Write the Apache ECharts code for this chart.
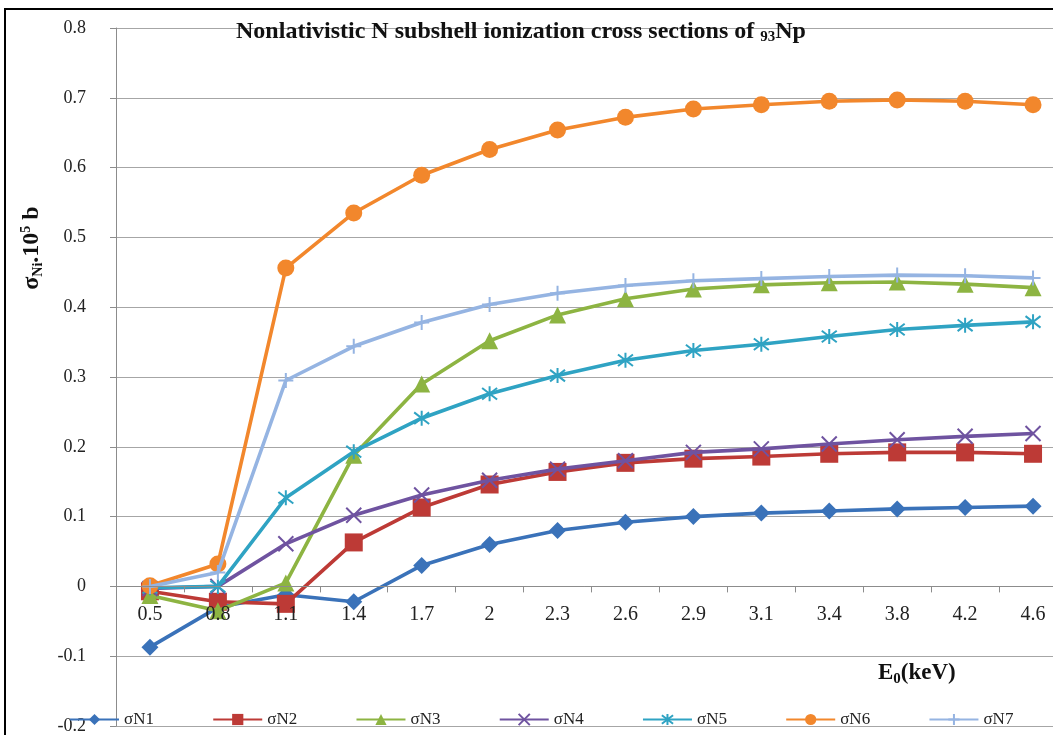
<!DOCTYPE html>
<html>
<head>
<meta charset="utf-8">
<script src="https://cdn.jsdelivr.net/npm/echarts@6/dist/echarts.min.js"></script>
<style>
html,body{margin:0;padding:0;background:#fff;}
#chart{width:1053px;height:735px;}
</style>
</head>
<body>
<div id="chart"></div>
<script>
const categories = ['0.5','0.8','1.1','1.4','1.7','2','2.3','2.6','2.9','3.1','3.4','3.8','4.2','4.6'];
const seriesNames = ['σN1','σN2','σN3','σN4','σN5','σN6','σN7'];
const sN1 = [-0.087,-0.030,-0.012,-0.022,0.030,0.060,0.080,0.092,0.100,0.105,0.108,0.111,0.113,0.115];
const sN2 = [-0.007,-0.022,-0.025,0.063,0.113,0.146,0.164,0.177,0.183,0.186,0.190,0.192,0.192,0.190];
const sN3 = [-0.013,-0.035,0.005,0.188,0.290,0.352,0.389,0.412,0.426,0.432,0.435,0.436,0.433,0.428];
const sN4 = [-0.003,0.000,0.061,0.102,0.131,0.152,0.168,0.180,0.192,0.197,0.204,0.210,0.215,0.219];
const sN5 = [-0.002,0.000,0.127,0.193,0.241,0.276,0.302,0.324,0.338,0.347,0.358,0.368,0.374,0.379];
const sN6 = [0.001,0.032,0.456,0.535,0.589,0.626,0.654,0.672,0.684,0.690,0.695,0.697,0.695,0.690];
const sN7 = [0.000,0.020,0.295,0.344,0.378,0.404,0.420,0.431,0.438,0.441,0.444,0.446,0.445,0.442];
const yTicks = {min:-0.2, max:0.8, interval:0.1};

const allData = [sN1,sN2,sN3,sN4,sN5,sN6,sN7];
const colors = ['#3a72b9','#bd3a36','#8db442','#6f53a0','#2fa3c3','#f2872c','#95b4e2'];
const symbols = [
  'diamond','rect','triangle',
  'path://M0,0L10,10M10,0L0,10',
  'path://M0,0L10,10M10,0L0,10M5,-1.5L5,11.5',
  'circle',
  'path://M0,5L10,5M5,0L5,10'
];
const sizes = [17,18,17,15,15,17,15];
const strokeSym = [false,false,false,true,true,false,true];

const serif = '"Liberation Serif","Times New Roman",serif';

const gridTop = 28, gridBottom = 9, chartH = 735;
const plotH = chartH - gridTop - gridBottom;
// shift the category axis up so it sits on the value 0 line
const zeroOffset = -plotH * (0 - yTicks.min) / (yTicks.max - yTicks.min);

const series = allData.map((d,i)=>({
  name: seriesNames[i],
  type: 'line',
  data: d,
  symbol: symbols[i],
  symbolSize: sizes[i],
  showAllSymbol: true,
  z: 2 + i,
  lineStyle: {color: colors[i], width: 3.6},
  itemStyle: strokeSym[i]
    ? {color: colors[i], borderColor: colors[i], borderWidth: 2}
    : {color: colors[i]},
  emphasis: {disabled: true},
  animation: false
}));

const chart = echarts.init(document.getElementById('chart'), null, {renderer:'canvas'});
chart.setOption({
  backgroundColor: '#fff',
  animation: false,
  title: {
    text: 'Nonlativistic N subshell ionization cross sections of {sub|93}Np',
    left: 516, top: 13, textAlign: 'center',
    textStyle: {
      fontFamily: serif, fontWeight: 'bold', fontSize: 24, color: '#111',
      rich: {sub: {fontFamily: serif, fontWeight: 'bold', fontSize: 15, verticalAlign: 'bottom', padding:[12,0,0,0], color:'#111'}}
    }
  },
  grid: {left: 116, right: -14, top: gridTop, bottom: gridBottom, containLabel: false, outerBoundsMode: 'none'},
  legend: {
    data: seriesNames,
    left: 69, top: 711, padding: 0,
    itemWidth: 49, itemHeight: 14, itemGap: 58.3,
    textStyle: {fontFamily: serif, fontSize: 17, color: '#222'}
  },
  xAxis: {
    type: 'category',
    data: categories,
    boundaryGap: true,
    position: 'bottom',
    offset: zeroOffset,
    z: 20,
    axisLine: {onZero: false, lineStyle: {color: '#8c8c8c', width: 1}},
    axisTick: {show: true, length: 6, inside: false, lineStyle: {color: '#8c8c8c'}},
    axisLabel: {fontFamily: serif, fontSize: 20, color: '#222', margin: 18},
    splitLine: {show: false}
  },
  yAxis: {
    type: 'value',
    min: yTicks.min, max: yTicks.max, interval: yTicks.interval,
    axisLine: {show: true, lineStyle: {color: '#8c8c8c'}},
    axisTick: {show: true, length: 6, lineStyle: {color: '#8c8c8c'}},
    axisLabel: {fontFamily: serif, fontSize: 18, color: '#222', margin: 30,
      formatter: v => String(Math.round(v*10)/10)},
    splitLine: {show: true, lineStyle: {color: '#a6a6a6', width: 1}}
  },
  graphic: [
    {type: 'rect', shape: {x: 5, y: 9, width: 1200, height: 900},
     style: {fill: 'none', stroke: '#000', lineWidth: 2}, silent: true, z: 100},
    {type: 'text', x: 32, y: 248, rotation: Math.PI/2,
     style: {text: 'σ{sub|Ni}.10{sup|5} b', fontFamily: serif, fontWeight: 'bold', fontSize: 24, fill: '#111',
       align: 'center', verticalAlign: 'middle',
       rich: {
         sub: {fontFamily: serif, fontWeight: 'bold', fontSize: 14, fill:'#111', padding:[12,0,0,0]},
         sup: {fontFamily: serif, fontWeight: 'bold', fontSize: 14, fill:'#111', padding:[0,0,12,0]}
       }}},
    {type: 'text', x: 878, y: 673,
     style: {text: 'E{sub|0}(keV)', fontFamily: serif, fontWeight: 'bold', fontSize: 23, fill: '#111',
       align: 'left', verticalAlign: 'middle',
       rich: {sub: {fontFamily: serif, fontWeight: 'bold', fontSize: 15, fill:'#111', padding:[12,0,0,0]}}}}
  ],
  series: series
});
</script>
</body>
</html>
